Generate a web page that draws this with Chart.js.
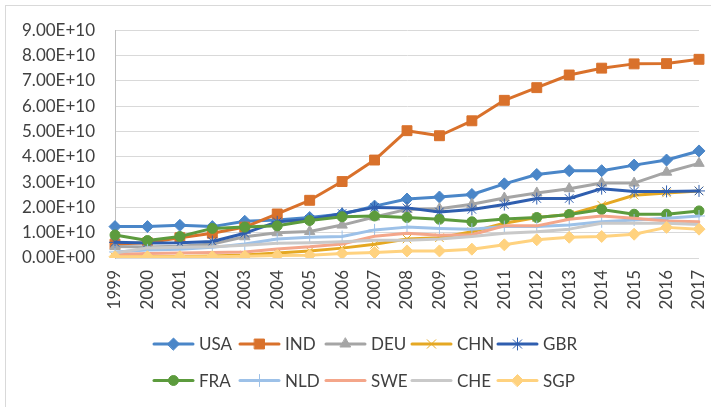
<!DOCTYPE html>
<html lang="en">
  <head>
    <meta charset="UTF-8" />
    <title>Line chart 1999-2017</title>
    <script src="https://cdn.jsdelivr.net/npm/chart.js"></script>
    <style>
      body {
        margin: 0;
        background: #fff;
        overflow: hidden;
      }
      .frame {
        position: absolute;
        left: 5px;
        top: 5px;
        width: 720px;
        height: 420px;
        border: 1px solid #d9d9d9;
      }
      #wrap {
        position: absolute;
        left: 0;
        top: 0;
        width: 711px;
        height: 407px;
      }
    </style>
  </head>
  <body>
    <div class="frame"></div>
    <div id="wrap"><canvas id="lineChart"></canvas></div>

    <script>
      const years = ["1999","2000","2001","2002","2003","2004","2005","2006","2007","2008","2009","2010","2011","2012","2013","2014","2015","2016","2017"];

      // values in units of 1E+10
      const usa = [1.24, 1.24, 1.29, 1.24, 1.45, 1.5, 1.6, 1.74, 2.05, 2.33, 2.41, 2.51, 2.93, 3.3, 3.45, 3.45, 3.67, 3.87, 4.23];
      const ind = [0.55, 0.6, 0.8, 0.98, 1.22, 1.74, 2.28, 3.02, 3.87, 5.03, 4.83, 5.42, 6.23, 6.73, 7.23, 7.5, 7.67, 7.68, 7.85];
      const deu = [0.45, 0.43, 0.46, 0.55, 0.84, 1.0, 1.05, 1.3, 1.62, 1.92, 1.95, 2.12, 2.37, 2.57, 2.74, 2.96, 2.96, 3.39, 3.74];
      const chn = [0.05, 0.05, 0.06, 0.08, 0.12, 0.2, 0.28, 0.39, 0.54, 0.75, 0.8, 1.04, 1.37, 1.6, 1.72, 2.09, 2.48, 2.57, 2.65];
      const gbr = [0.62, 0.59, 0.6, 0.65, 0.98, 1.43, 1.52, 1.76, 2.0, 1.98, 1.82, 1.92, 2.11, 2.35, 2.35, 2.74, 2.63, 2.63, 2.65];
      const fra = [0.91, 0.69, 0.85, 1.17, 1.22, 1.27, 1.48, 1.63, 1.66, 1.6, 1.53, 1.43, 1.54, 1.6, 1.72, 1.92, 1.73, 1.73, 1.86];
      const nld = [0.24, 0.32, 0.35, 0.42, 0.55, 0.75, 0.82, 0.85, 1.11, 1.22, 1.17, 1.14, 1.24, 1.24, 1.3, 1.43, 1.5, 1.57, 1.66];
      const swe = [0.14, 0.18, 0.2, 0.22, 0.24, 0.36, 0.44, 0.55, 0.86, 0.98, 0.9, 0.92, 1.27, 1.27, 1.53, 1.66, 1.57, 1.46, 1.43];
      const che = [0.2, 0.4, 0.42, 0.44, 0.5, 0.58, 0.6, 0.64, 0.7, 0.7, 0.75, 0.85, 0.98, 1.04, 1.14, 1.37, 1.37, 1.37, 1.32];
      const sgp = [0.05, 0.05, 0.05, 0.05, 0.07, 0.1, 0.11, 0.18, 0.22, 0.28, 0.28, 0.35, 0.52, 0.72, 0.82, 0.85, 0.94, 1.21, 1.14];

      const yTicks = [0, 1, 2, 3, 4, 5, 6, 7, 8, 9];

      const FONT = "Lato, 'Noto Sans', sans-serif";
      const TEXT = "#404040";

      function sci(v) {
        if (v === 0) return "0.00E+00";
        const [m, e] = v.toExponential(2).toUpperCase().split("E");
        const sign = e[0] === "-" ? "-" : "+";
        const digits = e.replace(/[+-]/, "").padStart(2, "0");
        return m + "E" + sign + digits;
      }

      function series(label, vals, color, style, radius) {
        return {
          label: label,
          data: vals.map(v => v * 1e10),
          borderColor: color,
          backgroundColor: color,
          borderWidth: 3,
          pointStyle: style,
          pointRadius: radius,
          pointHoverRadius: radius,
          pointBorderWidth: 1,
          pointBackgroundColor: color,
          pointBorderColor: color,
          tension: 0,
          fill: false,
          borderJoinStyle: "round",
          borderCapStyle: "round"
        };
      }

      const datasets = [
        series("USA", usa, "#4A86C8", "rectRot", 6),
        series("IND", ind, "#D9712B", "rect", 7),
        series("DEU", deu, "#A5A5A5", "triangle", 6),
        series("CHN", chn, "#E5A823", "crossRot", 6),
        series("GBR", gbr, "#2F5EAF", "star", 6),
        series("FRA", fra, "#5C9B3D", "circle", 5),
        series("NLD", nld, "#9DC1E8", "cross", 6),
        series("SWE", swe, "#F4A68A", false, 0),
        series("CHE", che, "#C9C9C9", false, 0),
        series("SGP", sgp, "#FFD27F", "rectRot", 6)
      ];
      // Excel stacks later series on top
      datasets.forEach((d, i) => { d.order = datasets.length - i; });

      const gridLegend = {
        id: "gridLegend",
        afterDraw(chart) {
          const ctx = chart.ctx;
          ctx.save();
          ctx.font = "17px " + FONT;
          ctx.textBaseline = "middle";
          chart.data.datasets.forEach((d, i) => {
            const col = i % 5;
            const row = Math.floor(i / 5);
            const x = 154 + col * 86;
            const y = 344 + row * 36.5;
            ctx.strokeStyle = d.borderColor;
            ctx.lineWidth = 3;
            ctx.lineCap = "round";
            ctx.beginPath();
            ctx.moveTo(x, y);
            ctx.lineTo(x + 39, y);
            ctx.stroke();
            if (d.pointStyle && d.pointRadius > 0) {
              ctx.fillStyle = d.pointBackgroundColor;
              ctx.strokeStyle = d.pointBorderColor;
              ctx.lineWidth = 1;
              Chart.helpers.drawPoint(ctx, {
                pointStyle: d.pointStyle,
                radius: d.pointRadius,
                rotation: 0,
                borderWidth: 1
              }, x + 19.5, y);
            }
            ctx.fillStyle = TEXT;
            ctx.fillText(d.label, x + 45, y + 1);
          });
          ctx.restore();
        }
      };

      new Chart(document.getElementById("lineChart"), {
        type: "line",
        data: { labels: years, datasets: datasets },
        plugins: [gridLegend],
        options: {
          responsive: true,
          maintainAspectRatio: false,
          animation: false,
          events: [],
          layout: { padding: { left: 0, right: 12, top: 28, bottom: 97 } },
          plugins: {
            legend: { display: false },
            tooltip: { enabled: false }
          },
          scales: {
            x: {
              offset: false,
              grid: { display: false, drawTicks: false },
              border: { display: false },
              ticks: {
                minRotation: 90,
                maxRotation: 90,
                autoSkip: false,
                padding: 12,
                color: TEXT,
                font: { family: FONT, size: 17 }
              },
              afterFit(scale) {
                scale.height = 52;
                scale.paddingLeft = 0;
                scale.paddingRight = 0;
              }
            },
            y: {
              min: 0,
              max: 9e10,
              afterBuildTicks(scale) {
                scale.ticks = yTicks.map(v => ({ value: v * 1e10 }));
              },
              grid: { color: "#d9d9d9", lineWidth: 1, drawTicks: false },
              border: { display: true, color: "#bfbfbf", width: 1 },
              ticks: {
                padding: 20,
                color: TEXT,
                font: { family: FONT, size: 17 },
                callback: v => sci(v)
              },
              afterFit(scale) { scale.width = 115; }
            }
          }
        }
      });
    </script>
  </body>
</html>
